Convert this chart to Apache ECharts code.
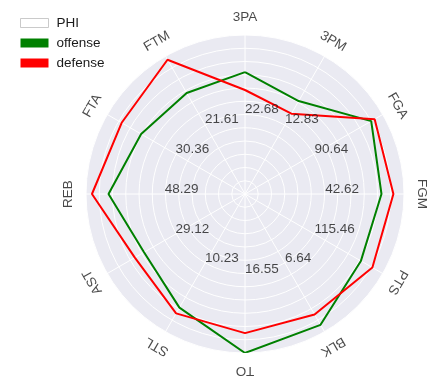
<!DOCTYPE html>
<html><head><meta charset="utf-8">
<script src="https://cdn.jsdelivr.net/npm/echarts@6/dist/echarts.min.js"></script>
<style>html,body{margin:0;padding:0;background:#fff}#c{width:437px;height:388px}</style>
</head><body><div id="c"></div>
<script>
const categories = ['3PA','3PM','FGA','FGM','PTS','BLK','TO','STL','AST','REB','FTA','FTM'];
const phiValues = ['22.68','12.83','90.64','42.62','115.46','6.64','16.55','10.23','29.12','48.29','30.36','21.61'];
const offense = [9.2, 8.1, 11.0, 10.3, 10.1, 11.4, 12.0, 9.9, 8.8, 10.3, 9.05, 8.8];
const defense = [7.85, 7.0, 11.3, 11.2, 11.1, 10.5, 10.5, 10.4, 9.6, 11.55, 10.75, 11.7];
const radiusTicks = [0,1,2,3,4,5,6,7,8,9,10,11,12];

const radiusMax = radiusTicks[radiusTicks.length - 1];
const step = 360 / categories.length;
const phiLabelRadius = 6.05;
const nameLabelRadius = 13.3;
const FONT = '"Liberation Sans", Arial, sans-serif';
const TXT = '#1a1a1a';
const CENTER = [245, 194];
const RADIUS = 159;

function closed(vals) {
  const d = vals.map((v, i) => [v, i * step]);
  d.push([vals[0], categories.length * step]);
  return d;
}
function rot(i) {
  let r = -step * i;
  while (r <= -180) r += 360;
  return r;
}
const hidden = {axisLine: {show: false}, axisTick: {show: false}, axisLabel: {show: false}};

const chart = echarts.init(document.getElementById('c'), null, {renderer: 'canvas'});
chart.setOption({
  animation: false,
  backgroundColor: '#fff',
  textStyle: {fontFamily: FONT},
  legend: {
    orient: 'vertical', left: 15, top: 11, itemWidth: 28, itemHeight: 9, itemGap: 6,
    icon: 'rect',
    textStyle: {fontFamily: FONT, fontSize: 13.5, color: TXT, padding: [0, 0, 0, 3]},
    data: [
      {name: 'PHI', itemStyle: {color: '#fff', borderColor: '#bdbdbd', borderWidth: 1}},
      {name: 'offense', itemStyle: {color: '#008000'}},
      {name: 'defense', itemStyle: {color: '#ff0000'}}
    ]
  },
  polar: [
    {center: CENTER, radius: RADIUS},
    {center: CENTER, radius: RADIUS}
  ],
  angleAxis: [
    Object.assign({polarIndex: 0, type: 'value', min: 0, max: 360, interval: step,
      startAngle: 90, clockwise: true, z: 0,
      splitLine: {show: false},
      splitArea: {show: true, areaStyle: {color: ['#EAEAF2']}}}, hidden),
    Object.assign({polarIndex: 1, type: 'value', min: 0, max: 360, interval: step,
      startAngle: 90, clockwise: true, z: 1,
      splitLine: {show: true, lineStyle: {color: '#fff', width: 1}},
      splitArea: {show: false}}, hidden)
  ],
  radiusAxis: [
    Object.assign({polarIndex: 0, min: 0, max: radiusMax, interval: 1, z: 0,
      splitLine: {show: false}, splitArea: {show: false}}, hidden),
    Object.assign({polarIndex: 1, min: 0, max: radiusMax, interval: 1, z: 1,
      splitLine: {show: true, lineStyle: {color: '#fff', width: 1}},
      splitArea: {show: false}}, hidden)
  ],
  series: [
    {
      name: 'PHI', type: 'scatter', coordinateSystem: 'polar', polarIndex: 1, clip: false,
      symbol: 'circle', symbolSize: 0.1, itemStyle: {color: 'rgba(0,0,0,0)'},
      z: 5,
      data: phiValues.map((t, i) => ({value: [phiLabelRadius, i * step], name: t})),
      label: {
        show: true, position: 'inside', align: 'left', verticalAlign: 'bottom', offset: [0, 2],
        formatter: p => p.name, fontFamily: FONT, fontSize: 13.5, color: TXT
      },
      emphasis: {disabled: true}
    },
    {
      name: 'offense', type: 'line', coordinateSystem: 'polar', polarIndex: 1, color: '#008000',
      symbol: 'none', lineStyle: {color: '#008000', width: 2}, z: 3,
      data: closed(offense)
    },
    {
      name: 'defense', type: 'line', coordinateSystem: 'polar', polarIndex: 1, color: '#ff0000',
      symbol: 'none', lineStyle: {color: '#ff0000', width: 2}, z: 4,
      data: closed(defense)
    },
    {
      name: 'axisNames', type: 'scatter', coordinateSystem: 'polar', polarIndex: 1, clip: false,
      symbol: 'circle', symbolSize: 0.1, itemStyle: {color: 'rgba(0,0,0,0)'},
      data: categories.map((c, i) => ({value: [nameLabelRadius, i * step], name: c,
        label: {rotate: rot(i)}})),
      label: {
        show: true, position: 'inside', align: 'center', verticalAlign: 'middle',
        formatter: p => p.name, fontFamily: FONT, fontSize: 13.5, color: TXT
      },
      emphasis: {disabled: true}
    }
  ]
});
</script>
</body></html>
